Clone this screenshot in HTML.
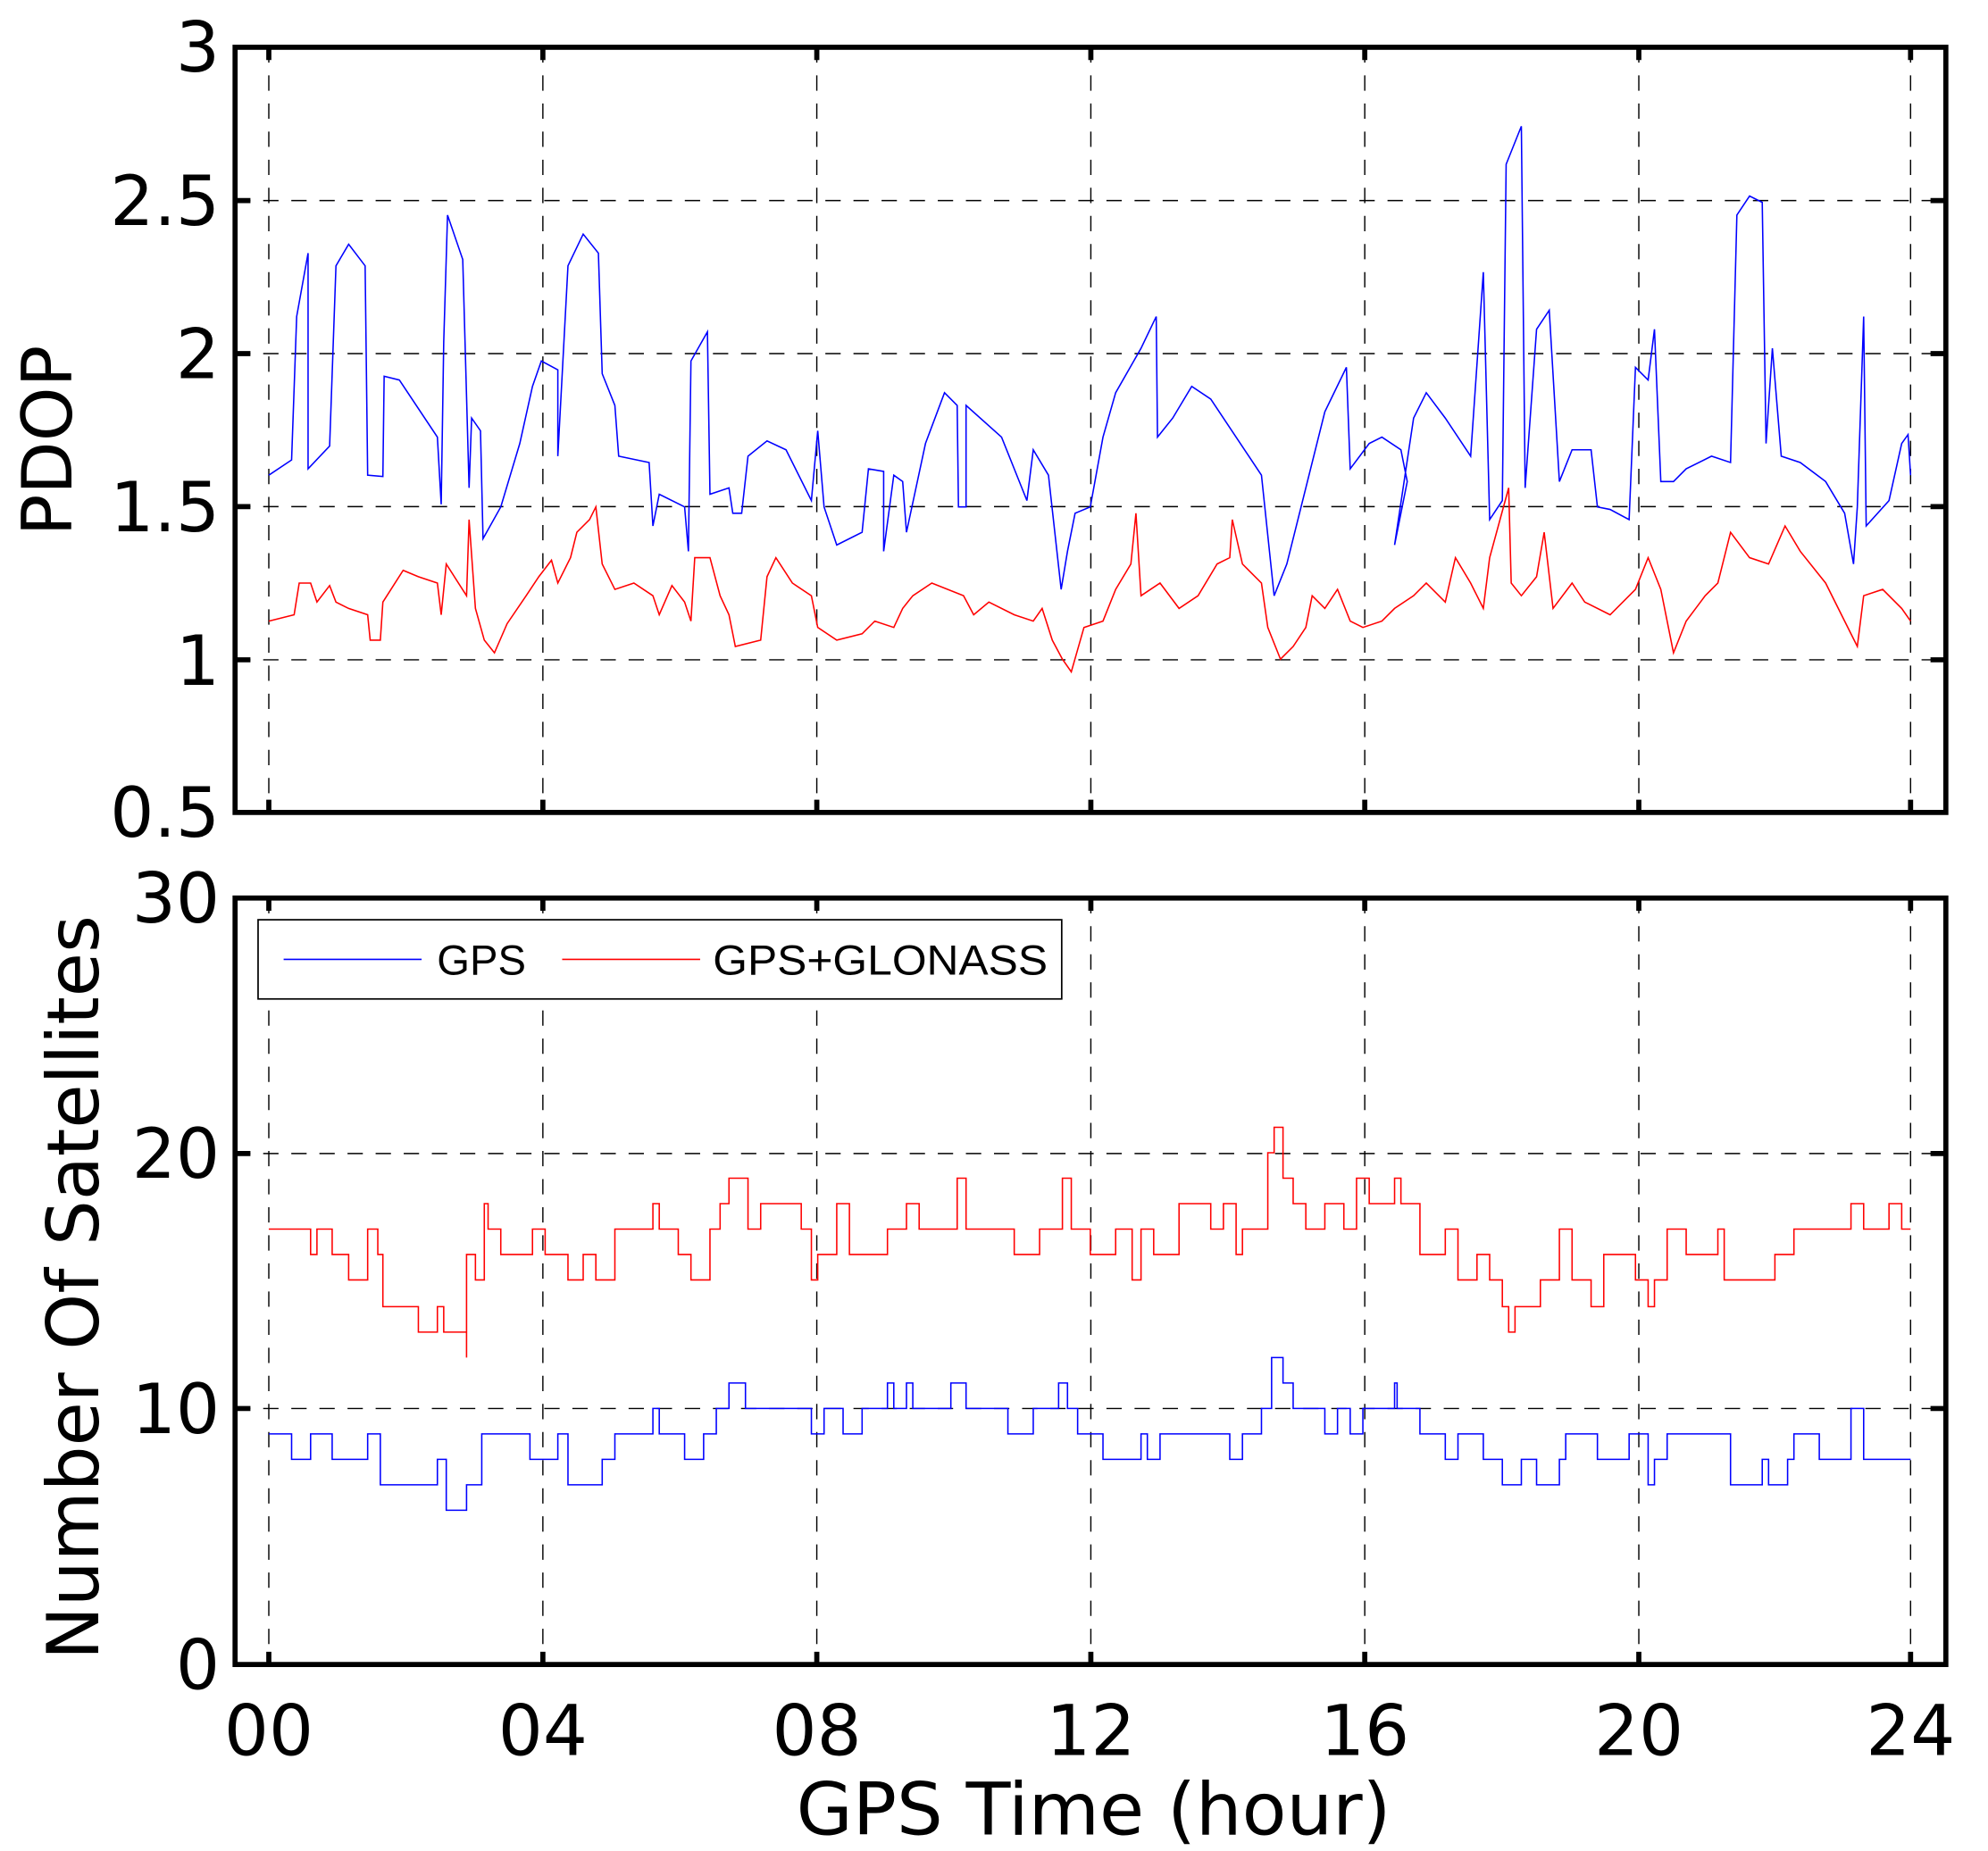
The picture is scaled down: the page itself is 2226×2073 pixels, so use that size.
<!DOCTYPE html>
<html><head><meta charset="utf-8"><style>html,body{margin:0;padding:0;background:#fff}svg{display:block}</style></head>
<body>
<svg width="2226" height="2073" viewBox="0 0 1556 1449" preserveAspectRatio="none" xmlns="http://www.w3.org/2000/svg">
<rect width="1556" height="1449" fill="#fff"/>
<g stroke="#000" stroke-width="1" stroke-dasharray="12,10" fill="none">
<path d="M184 157H1523M184 276.8H1523M184 396.6H1523M184 516.5H1523"/>
<path d="M184 903H1523M184 1102.6H1523"/>
<path d="M210.4 37V636M424.9 37V636M639.3 37V636M853.8 37V636M1068.2 37V636M1282.7 37V636M1495.4 37V636"/>
<path d="M210.4 703V1303M424.9 703V1303M639.3 703V1303M853.8 703V1303M1068.2 703V1303M1282.7 703V1303M1495.4 703V1303"/>
</g>
<g transform="matrix(0.9923 0 0 0.9933 0 -0.5)" fill="none" stroke-width="1.1">
<polyline stroke="#00f" points="212,375 230,363 234,250 243,200 243,370 260,352 265,210 275,193 288,210 290,375 302,376 303,297 315,300 345,345 348,398 350,270 353,170 365,205 370,385 372,330 379,340 381,425 395,400 410,350 420,305 427,285 440,292 440,360 448,210 460,185 472,200 475,295 485,320 488,360 512,365 515,415 520,390 540,400 543,435 545,285 558,262 560,390 575,385 578,405 585,405 590,360 605,348 620,355 640,395 645,340 650,400 660,430 680,420 685,370 697,372 697,435 705,375 712,380 715,420 730,350 745,310 755,320 756,400 762,400 762,320 790,345 810,395 815,355 827,375 837,465 842,435 848,405 860,400 870,345 880,310 900,275 912,250 913,345 925,330 940,305 955,315 975,345 985,360 995,375 1005,470 1015,445 1025,405 1045,325 1062,290 1065,370 1080,350 1090,345 1105,355 1110,380 1100,430 1115,330 1125,310 1140,330 1160,360 1170,215 1175,410 1185,395 1188,130 1200,100 1203,385 1212,260 1222,245 1230,380 1240,355 1255,355 1260,400 1270,402 1285,410 1290,290 1300,300 1305,260 1310,380 1320,380 1330,370 1350,360 1365,365 1370,170 1380,155 1390,160 1393,350 1398,275 1405,360 1420,365 1440,380 1455,405 1462,445 1465,400 1470,250 1472,415 1490,395 1500,350 1505,343 1507,375"/>
<polyline stroke="#f00" points="212,490 232,485 236,460 245,460 250,475 260,462 265,475 275,480 290,485 292,505 300,505 302,475 318,450 330,455 345,460 348,485 352,445 368,470 370,410 375,480 382,505 390,515 400,492 415,470 425,455 435,442 440,460 450,440 455,420 465,410 470,400 475,445 485,465 500,460 515,470 520,485 530,462 540,475 545,490 548,440 560,440 568,470 575,485 580,510 600,505 605,455 612,440 625,460 640,470 645,495 660,505 680,500 690,490 705,495 712,480 720,470 735,460 760,470 768,485 780,475 800,485 815,490 822,480 830,505 838,520 845,530 855,495 870,490 880,465 892,445 896,405 900,470 915,460 930,480 945,470 960,445 970,440 972,410 980,445 995,460 1000,495 1010,520 1020,510 1030,495 1035,470 1045,480 1055,465 1065,490 1075,495 1090,490 1100,480 1115,470 1125,460 1140,475 1148,440 1160,460 1170,480 1175,440 1190,385 1192,460 1200,470 1212,455 1218,420 1225,480 1240,460 1250,475 1270,485 1290,465 1300,440 1310,465 1320,515 1330,490 1345,470 1355,460 1365,420 1380,440 1395,445 1408,415 1420,435 1440,460 1455,490 1465,510 1470,470 1485,465 1500,480 1507,490"/>
</g>
<g transform="matrix(0.9923 0 0 0.996 0 0)" fill="none" stroke-width="1.1">
<path stroke="#f00" d="M212 966 H245 V986 H250 V966 H262 V986 H275 V1006 H290 V966 H298 V986 H302 V1027 H330 V1047 H345 V1027 H350 V1047 H368 V1067 V986 H375 V1006 H382 V946 H385 V966 H395 V986 H420 V966 H430 V986 H448 V1006 H460 V986 H470 V1006 H485 V966 H515 V946 H520 V966 H535 V986 H545 V1006 H560 V966 H568 V946 H575 V926 H590 V966 H600 V946 H632 V966 H640 V1006 H645 V986 H660 V946 H670 V986 H700 V966 H715 V946 H725 V966 H755 V926 H762 V966 H800 V986 H820 V966 H838 V926 H845 V966 H860 V986 H880 V966 H893 V1006 H900 V966 H910 V986 H930 V946 H955 V966 H965 V946 H975 V986 H980 V966 H1000 V906 H1005 V886 H1012 V926 H1020 V946 H1030 V966 H1045 V946 H1060 V966 H1070 V926 H1080 V946 H1100 V926 H1105 V946 H1120 V986 H1140 V966 H1150 V1006 H1165 V986 H1175 V1006 H1185 V1027 H1190 V1047 H1195 V1027 H1215 V1006 H1230 V966 H1240 V1006 H1255 V1027 H1265 V986 H1290 V1006 H1300 V1027 H1305 V1006 H1315 V966 H1330 V986 H1355 V966 H1360 V1006 H1400 V986 H1415 V966 H1460 V946 H1470 V966 H1490 V946 H1500 V966 H1507"/>
<path stroke="#00f" d="M212 1127 H230 V1147 H245 V1127 H262 V1147 H290 V1127 H300 V1167 H345 V1147 H352 V1187 H368 V1167 H380 V1127 H418 V1147 H440 V1127 H448 V1167 H475 V1147 H485 V1127 H515 V1107 H520 V1127 H540 V1147 H555 V1127 H565 V1107 H575 V1087 H588 V1107 H640 V1127 H650 V1107 H665 V1127 H680 V1107 H700 V1087 H705 V1107 H715 V1087 H720 V1107 H750 V1087 H762 V1107 H795 V1127 H815 V1107 H835 V1087 H842 V1107 H850 V1127 H870 V1147 H900 V1127 H905 V1147 H915 V1127 H970 V1147 H980 V1127 H995 V1107 H1003 V1067 H1012 V1087 H1020 V1107 H1045 V1127 H1055 V1107 H1065 V1127 H1075 V1107 H1100 V1087 H1102 V1107 H1120 V1127 H1140 V1147 H1150 V1127 H1170 V1147 H1185 V1167 H1200 V1147 H1212 V1167 H1230 V1147 H1235 V1127 H1260 V1147 H1285 V1127 H1300 V1167 H1305 V1147 H1315 V1127 H1365 V1167 H1390 V1147 H1395 V1167 H1410 V1147 H1415 V1127 H1435 V1147 H1460 V1107 H1470 V1147 H1485 V1147 H1507"/>
</g>
<g stroke="#000" stroke-width="4" fill="none">
<rect x="184" y="37" width="1339" height="599"/>
<rect x="184" y="703" width="1339" height="600"/>
<path d="M184 157h12M184 276.8h12M184 396.6h12M184 516.5h12M1523 157h-12M1523 276.8h-12M1523 396.6h-12M1523 516.5h-12"/>
<path d="M184 903h12M184 1102.6h12M1523 903h-12M1523 1102.6h-12"/>
<path d="M210.4 37v10M424.9 37v10M639.3 37v10M853.8 37v10M1068.2 37v10M1282.7 37v10M1495.4 37v10M210.4 636v-10M424.9 636v-10M639.3 636v-10M853.8 636v-10M1068.2 636v-10M1282.7 636v-10M1495.4 636v-10"/>
<path d="M210.4 703v10M424.9 703v10M639.3 703v10M853.8 703v10M1068.2 703v10M1282.7 703v10M1495.4 703v10M210.4 1303v-10M424.9 1303v-10M639.3 1303v-10M853.8 1303v-10M1068.2 1303v-10M1282.7 1303v-10M1495.4 1303v-10"/>
</g>
<rect x="202" y="720" width="629" height="62" fill="#fff" stroke="#000" stroke-width="1.2"/>
<line x1="222" y1="751" x2="330" y2="751" stroke="#00f" stroke-width="1.1"/>
<line x1="440" y1="751" x2="548" y2="751" stroke="#f00" stroke-width="1.1"/>
<g font-family="'Liberation Sans',Arial,sans-serif" font-size="33" fill="#000">
<text x="342" y="763">GPS</text>
<text x="558" y="763" textLength="262" lengthAdjust="spacingAndGlyphs">GPS+GLONASS</text>
</g>
<g font-family="'DejaVu Sans',Verdana,sans-serif" font-size="54" fill="#000" text-anchor="end">
<text x="172" y="56">3</text><text x="172" y="176">2.5</text><text x="172" y="296">2</text><text x="172" y="416">1.5</text><text x="172" y="536">1</text><text x="172" y="655">0.5</text>
<text x="172" y="722">30</text><text x="172" y="922">20</text><text x="172" y="1122">10</text><text x="172" y="1322">0</text>
</g>
<g font-family="'DejaVu Sans',Verdana,sans-serif" font-size="55" fill="#000" text-anchor="middle">
<text x="210.4" y="1374">00</text><text x="424.9" y="1374">04</text><text x="639.3" y="1374">08</text><text x="853.8" y="1374">12</text><text x="1068.2" y="1374">16</text><text x="1282.7" y="1374">20</text><text x="1495.4" y="1374">24</text>
<text x="856" y="1436" font-size="57">GPS Time (hour)</text>
<text transform="translate(56,345) rotate(-90)" font-size="54">PDOP</text>
<text transform="translate(77,1008) rotate(-90)" font-size="56">Number Of Satellites</text>
</g>
</svg>
</body></html>
